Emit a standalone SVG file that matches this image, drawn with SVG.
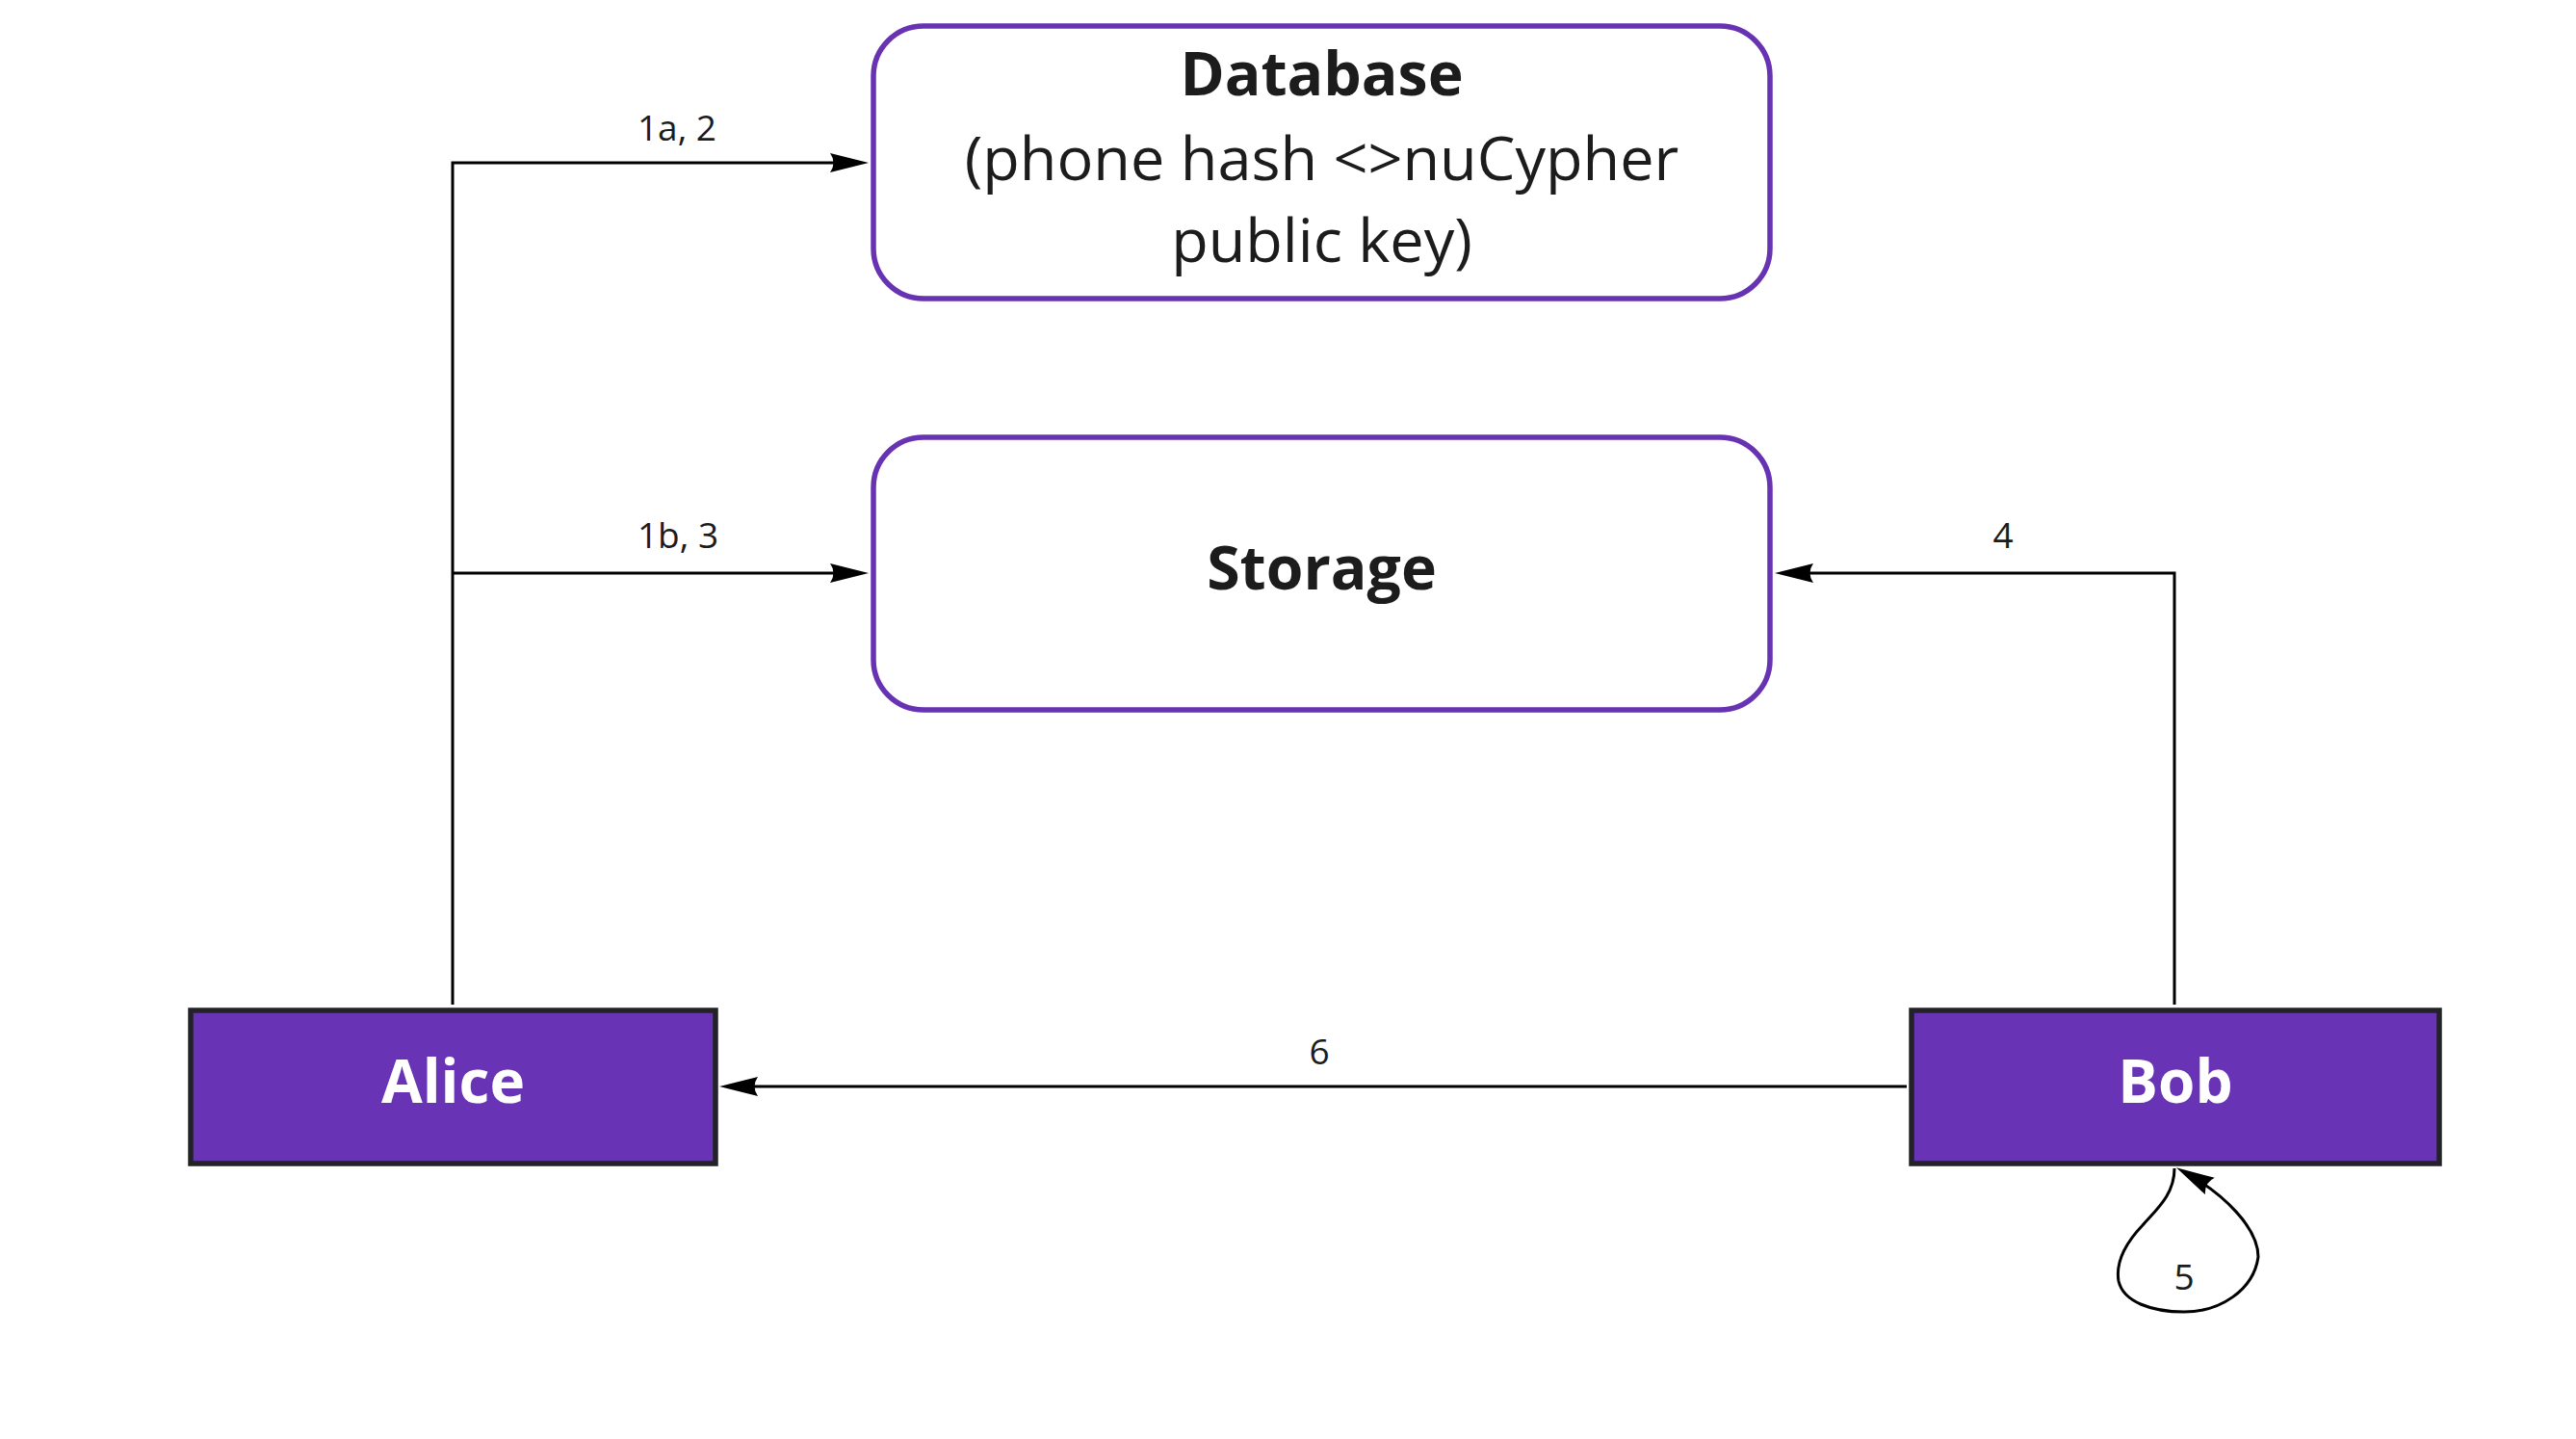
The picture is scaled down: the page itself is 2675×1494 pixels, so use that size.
<svg xmlns="http://www.w3.org/2000/svg" width="2675" height="1494" viewBox="0 0 2675 1494">
<defs>
<style>
.store{fill:#ffffff;stroke:#6733b3;stroke-width:5.5}
.actor{fill:#6833b4;stroke:#222228;stroke-width:5.5}
.t{font-family:"Open Sans","Noto Sans","Liberation Sans",sans-serif;text-anchor:middle;fill:#1c1c1c}
.title{font-size:62.5px;font-weight:700}
.body{font-size:63px}
.actort{font-size:62px;font-weight:700;fill:#ffffff}
.lbl{font-size:37px}
.edge{fill:none;stroke:#000000;stroke-width:3;marker-end:url(#arr)}
</style>
<marker id="arr" markerUnits="userSpaceOnUse" orient="auto" viewBox="-32 -12 44 24" refX="0" refY="0" markerWidth="44" markerHeight="24">
<path d="M10,0 L-30,-10 Q-23,0 -30,10 Z" fill="#000000"/>
</marker>
</defs>
<rect width="2675" height="1494" fill="#ffffff"/>
<g id="connectors">
<path class="edge" d="M470,1043 V169 H892"/>
<path class="edge" d="M470,595 H892"/>
<path class="edge" d="M2258,1043 V595 H1853"/>
<path class="edge" d="M1980,1128 H757"/>
<path class="edge" d="M2258,1213 C2258,1240 2240,1255 2225,1272 C2205,1293 2197,1312 2200,1330 C2205,1352 2235,1362 2268,1362 C2305,1362 2340,1340 2345,1305 C2345,1275 2310,1240 2268.7,1217"/>
<text class="t lbl" x="703" y="146">1a, 2</text>
<text class="t lbl" x="704" y="569">1b, 3</text>
<text class="t lbl" x="2080" y="569">4</text>
<text class="t lbl" x="2268" y="1339">5</text>
<text class="t lbl" x="1370" y="1105">6</text>
</g>
<g id="database">
<rect class="store" x="907" y="27" width="931" height="283" rx="52" ry="52"/>
<text class="t title" x="1372.5" y="99">Database</text>
<text class="t body" x="1372.5" y="187">(phone hash &lt;&gt;nuCypher</text>
<text class="t body" x="1372.5" y="272">public key)</text>
</g>
<g id="storage">
<rect class="store" x="907" y="454" width="931" height="283" rx="52" ry="52"/>
<text class="t title" x="1372.5" y="612">Storage</text>
</g>
<g id="alice">
<rect class="actor" x="198" y="1049" width="545" height="159"/>
<text class="t actort" x="470.5" y="1145">Alice</text>
</g>
<g id="bob">
<rect class="actor" x="1985" y="1049" width="548" height="159"/>
<text class="t actort" x="2259" y="1145">Bob</text>
</g>
</svg>
